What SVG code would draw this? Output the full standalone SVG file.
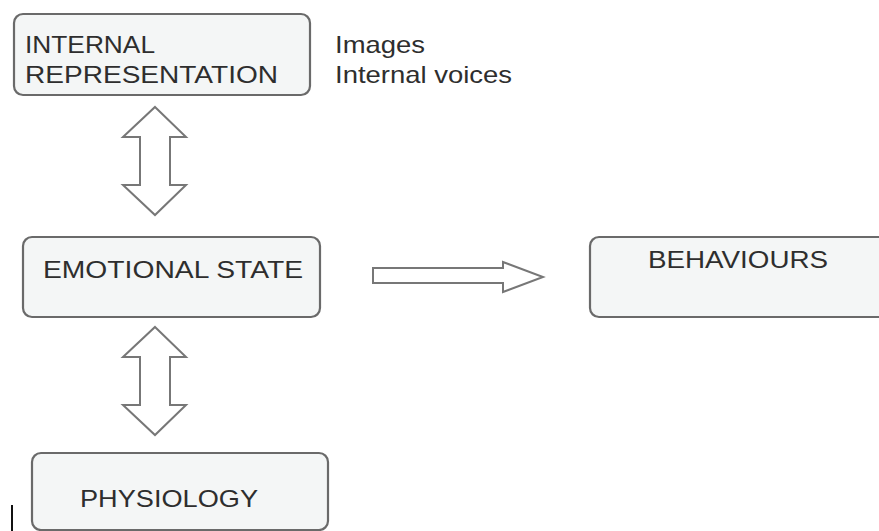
<svg xmlns="http://www.w3.org/2000/svg" width="879" height="531" viewBox="0 0 879 531">
<style>
.box{fill:#f4f6f6;stroke:#6a6a6a;stroke-width:2.2}
.t{font-family:"Liberation Sans",Arial,sans-serif;font-size:24px;fill:#2e2e2e}
.arr{fill:#ffffff;stroke:#777777;stroke-width:2;stroke-linejoin:miter}
</style>
<rect width="879" height="531" fill="#ffffff"/>
<g id="internal">
<rect class="box" x="14" y="14" width="296" height="81" rx="9"/>
<text class="t" x="25" y="53" textLength="130" lengthAdjust="spacingAndGlyphs">INTERNAL</text>
<text class="t" x="25" y="83" textLength="253" lengthAdjust="spacingAndGlyphs">REPRESENTATION</text>
</g>
<g id="notes">
<text class="t" x="335" y="53" textLength="90" lengthAdjust="spacingAndGlyphs">Images</text>
<text class="t" x="335" y="83" textLength="177" lengthAdjust="spacingAndGlyphs">Internal voices</text>
</g>
<g id="emotional">
<rect class="box" x="23" y="237" width="297" height="80" rx="9"/>
<text class="t" x="43" y="278" textLength="260" lengthAdjust="spacingAndGlyphs">EMOTIONAL STATE</text>
</g>
<g id="behaviours">
<rect class="box" x="590" y="237" width="300" height="80" rx="9"/>
<text class="t" x="648" y="268" textLength="180" lengthAdjust="spacingAndGlyphs">BEHAVIOURS</text>
</g>
<g id="physiology">
<rect class="box" x="32" y="453" width="296" height="77" rx="9"/>
<text class="t" x="80" y="507" textLength="178" lengthAdjust="spacingAndGlyphs">PHYSIOLOGY</text>
</g>
<g id="connectors">
<path class="arr" d="M155,107 L186,137 L170,137 L170,185 L186,185 L155,215 L123,185 L140,185 L140,137 L123,137 Z"/>
<path class="arr" d="M155,327 L186,357 L170,357 L170,405 L186,405 L155,435 L123,405 L140,405 L140,357 L123,357 Z"/>
<path class="arr" d="M373,268 L503,268 L503,262 L543,277 L503,292 L503,283 L373,283 Z"/>
</g>
<line x1="12" y1="505" x2="12" y2="531" stroke="#111111" stroke-width="2"/>
</svg>
